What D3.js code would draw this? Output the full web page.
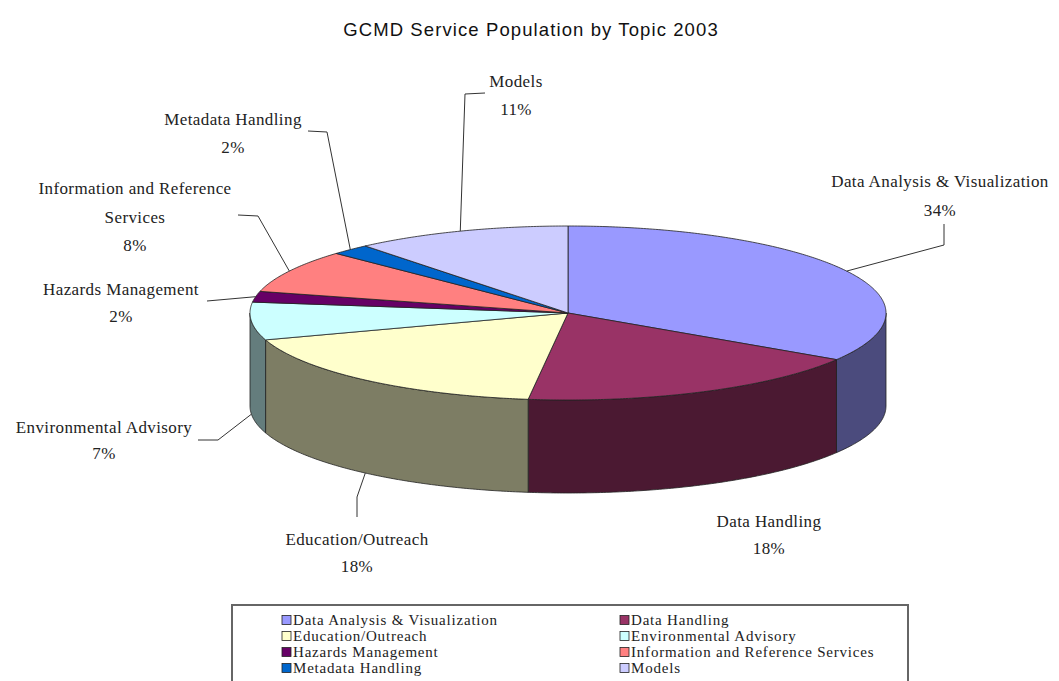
<!DOCTYPE html>
<html>
<head>
<meta charset="utf-8">
<script src="https://cdn.jsdelivr.net/npm/d3@7"></script>
<style>
  body { margin: 0; background: #fff; }
  svg { display: block; }
</style>
</head>
<body>
<svg id="chart" width="1059" height="681"></svg>
<script>
// Service population shares by topic, 2003
const topics = [
  "Data Analysis & Visualization",
  "Data Handling",
  "Education/Outreach",
  "Environmental Advisory",
  "Hazards Management",
  "Information and Reference Services",
  "Metadata Handling",
  "Models"
];
const shares = [34, 18, 18, 7, 2, 8, 2, 11];
const labelLines = [
  ["Data Analysis & Visualization"],
  ["Data Handling"],
  ["Education/Outreach"],
  ["Environmental Advisory"],
  ["Hazards Management"],
  ["Information and Reference", "Services"],
  ["Metadata Handling"],
  ["Models"]
];
const faceColors = ["#9999ff", "#993366", "#ffffcc", "#ccffff", "#660066", "#ff8080", "#0066cc", "#ccccff"];
const chartTitle = "GCMD Service Population by Topic 2003";

// Label placement: text centre x, first baseline, line gap, and leader-line elbow/end
const labelLayout = {
  "Data Analysis & Visualization":      { x: 940, y: 187, gap: 29, leader: [[944, 245], [944, 224]] },
  "Data Handling":                      { x: 769, y: 527, gap: 27, leader: null },
  "Education/Outreach":                 { x: 357, y: 545, gap: 27, leader: [[357, 497], [357, 517]] },
  "Environmental Advisory":             { x: 104, y: 433, gap: 26, leader: [[218, 440], [198, 440]] },
  "Hazards Management":                 { x: 121, y: 295, gap: 27, leader: [[207, 301]] },
  "Information and Reference Services": { x: 135, y: 194, gap: 28.5, leader: [[258, 216], [238, 215]] },
  "Metadata Handling":                  { x: 233, y: 125, gap: 28, leader: [[327, 132], [308, 131]] },
  "Models":                             { x: 516, y: 87, gap: 28, leader: [[465, 94], [485, 93]] }
};

const svg = d3.select("#chart");
svg.append("rect").attr("width", 1059).attr("height", 681).attr("fill", "#fff");

// Title
svg.append("text")
  .attr("x", 531).attr("y", 36)
  .attr("text-anchor", "middle")
  .attr("font-family", "Liberation Sans, Arial, sans-serif")
  .attr("font-size", 18.5)
  .attr("letter-spacing", 1.1)
  .attr("fill", "#111")
  .text(chartTitle);

// 3D pie geometry (elliptical top face with a vertical rim)
const cx = 568, cy = 313, rx = 318, ry = 87, depth = 93;
const pt = (a, dz = 0) => [cx + rx * Math.sin(a), cy - ry * Math.cos(a) + dz];

const color = d3.scaleOrdinal().domain(topics).range(faceColors);
const pie = d3.pie().sort(null).value(d => d.value);
const data = topics.map((t, i) => ({ topic: t, value: shares[i], lines: labelLines[i] }));
const arcs = pie(data);

const line = d3.line();
function arcPoints(a0, a1, dz) {
  const n = Math.max(2, Math.ceil((a1 - a0) / 0.01));
  return d3.range(n + 1).map(k => pt(a0 + (a1 - a0) * k / n, dz));
}

const pieG = svg.append("g");

// Rim walls: only the front half (from 3 o'clock to 9 o'clock) faces the viewer
arcs.forEach(a => {
  const s = Math.max(a.startAngle, Math.PI / 2);
  const e = Math.min(a.endAngle, 3 * Math.PI / 2);
  if (e <= s) return;
  const pts = arcPoints(s, e, 0).concat(arcPoints(s, e, depth).reverse());
  pieG.append("path")
    .attr("d", line(pts) + "Z")
    .attr("fill", d3.rgb(color(a.data.topic)).darker(2))
    .attr("stroke", "#222")
    .attr("stroke-width", 0.8)
    .attr("stroke-linejoin", "round");
});

// Top faces
arcs.forEach(a => {
  const pts = [[cx, cy]].concat(arcPoints(a.startAngle, a.endAngle, 0));
  pieG.append("path")
    .attr("d", line(pts) + "Z")
    .attr("fill", color(a.data.topic))
    .attr("stroke", "#222")
    .attr("stroke-width", 0.8)
    .attr("stroke-linejoin", "round");
});

// Data labels with leader lines
const labelG = svg.append("g")
  .attr("font-family", "Liberation Serif, Times New Roman, serif")
  .attr("font-size", 17)
  .attr("letter-spacing", 0.4)
  .attr("fill", "#222")
  .attr("text-anchor", "middle");

arcs.forEach(a => {
  const lay = labelLayout[a.data.topic];
  const mid = (a.startAngle + a.endAngle) / 2;
  const anchor = pt(mid, Math.cos(mid) < 0 ? depth : 0);
  if (lay.leader) {
    svg.append("path")
      .attr("d", line([anchor].concat(lay.leader)))
      .attr("fill", "none")
      .attr("stroke", "#333")
      .attr("stroke-width", 1);
  }
  const rows = a.data.lines.concat([a.data.value + "%"]);
  rows.forEach((r, i) => {
    labelG.append("text")
      .attr("x", lay.x)
      .attr("y", lay.y + i * lay.gap)
      .text(r);
  });
});

// Legend
const legend = svg.append("g");
legend.append("rect")
  .attr("x", 232).attr("y", 605)
  .attr("width", 676).attr("height", 100)
  .attr("fill", "#fff")
  .attr("stroke", "#666")
  .attr("stroke-width", 2);

const colX = [282, 620];
const rowY = d3.scalePoint().domain(d3.range(4)).range([620, 668]);
topics.forEach((t, i) => {
  const x = colX[i % 2];
  const y = rowY(Math.floor(i / 2));
  legend.append("rect")
    .attr("x", x).attr("y", y - 4.5)
    .attr("width", 9).attr("height", 9)
    .attr("fill", color(t))
    .attr("stroke", "#222")
    .attr("stroke-width", 0.8);
  legend.append("text")
    .attr("x", x + 11).attr("y", y + 5)
    .attr("font-family", "Liberation Serif, Times New Roman, serif")
    .attr("font-size", 15)
    .attr("letter-spacing", 0.8)
    .attr("fill", "#222")
    .text(t);
});
</script>
</body>
</html>
